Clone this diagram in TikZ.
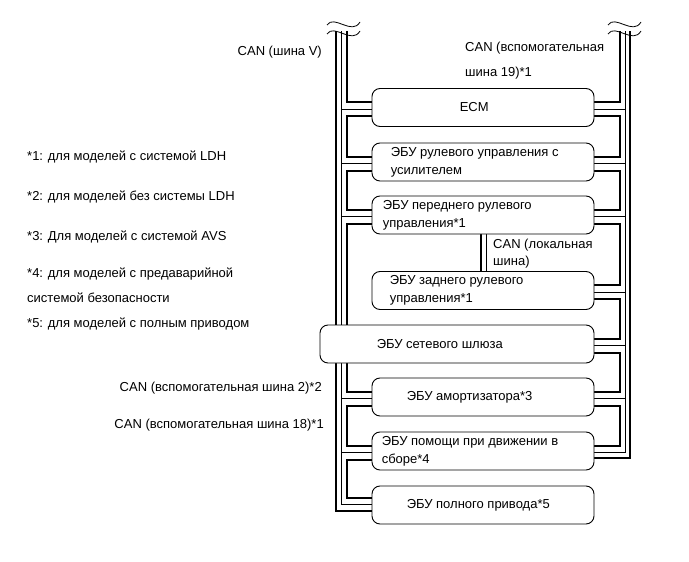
\documentclass[tikz,border=0pt]{standalone}
\usepackage{fontspec}
\setmainfont{Liberation Sans}
\usetikzlibrary{positioning,backgrounds}

\begin{document}
\begin{tikzpicture}[x=1pt,y=-1pt,
% common options for the control units:
box/.style = {draw, rounded corners=8pt, fill=white, line width=0.9pt,
            minimum width=222pt, minimum height=38pt, inner sep=0},
% common options for the texts:
txt/.style = {inner sep=0, align=left, font=\fontsize{13}{18}\selectfont},
% the two wires of a bus:
thk/.style = {line width=2pt},
thn/.style = {line width=0.8pt},
wave/.style = {line width=0.8pt}]
\useasboundingbox (0,0) rectangle (689,562);
% control units
\node[box] (ecm) at (483,107.5) {};
\node[box] (eps) at (483,162) {};
\node[box] (fst) at (483,215) {};
\node[box] (rst) at (483,290.5) {};
\node[box,minimum width=274pt] (gw) at (457,344) {};
\node[box] (abs) at (483,397) {};
\node[box] (pcs) at (483,451) {};
\node[box] (awd) at (483,505) {};
\node[txt,right=88pt of ecm.west] (ecm-t) {ECM};
\node[txt,right=19pt of eps.west] (eps-t) {ЭБУ рулевого управления с\\усилителем};
\node[txt,right=11pt of fst.west] (fst-t) {ЭБУ переднего рулевого\\управления*1};
\node[txt,right=18pt of rst.west] (rst-t) {ЭБУ заднего рулевого\\управления*1};
\node[txt,right=57pt of gw.west] (gw-t) {ЭБУ сетевого шлюза};
\node[txt,right=35pt of abs.west] (abs-t) {ЭБУ амортизатора*3};
\node[txt,right=10pt of pcs.west] (pcs-t) {ЭБУ помощи при движении в\\сборе*4};
\node[txt,right=35pt of awd.west] (awd-t) {ЭБУ полного привода*5};
% bus names
\node[txt,anchor=east] (canv) at (322,52) {CAN (шина V)};
\node[txt,anchor=west,font=\fontsize{13}{25}\selectfont] (can19) at (465,60.5) {CAN (вспомогательная\\шина 19)*1};
\node[txt,anchor=west,font=\fontsize{13}{17}\selectfont] (canl) at (493,254) {CAN (локальная\\шина)};
\node[txt,anchor=east] (can2) at (322,388) {CAN (вспомогательная шина 2)*2};
\node[txt,anchor=east] (can18) at (324,425) {CAN (вспомогательная шина 18)*1};
% notes
\node[txt,anchor=west] (n1) at (27,157) {*1: для моделей с системой LDH};
\node[txt,anchor=west] (n2) at (27,197) {*2: для моделей без системы LDH};
\node[txt,anchor=west] (n3) at (27,237) {*3: Для моделей с системой AVS};
\node[txt,anchor=west,font=\fontsize{13}{25}\selectfont] (n4) at (27,285) {*4: для моделей с предаварийной\\системой безопасности};
\node[txt,anchor=west] (n5) at (27,324) {*5: для моделей с полным приводом};
% cut ends of the buses
\coordinate (l1) at (336,31);
\coordinate (l2) at (341,31);
\coordinate (l3) at (347,31);
\coordinate (r3) at (620,31);
\coordinate (r2) at (625,31);
\coordinate (r1) at (630,31);
\draw[wave] (327,25) .. controls (334,14) and (352,36) .. (360,22);
\draw[wave] (327,34) .. controls (334,23) and (352,45) .. (360,31);
\draw[wave] (608,25) .. controls (615,14) and (633,36) .. (641,22);
\draw[wave] (608,34) .. controls (615,23) and (633,45) .. (641,31);
\begin{scope}[on background layer]
% left side
\draw[thk] (l1) |- ([yshift=-25pt]awd.north west);
\draw[thn] (l2) |- ([yshift=-19pt]awd.north west);
\draw[thk] (l3) |- ([yshift=-14pt]ecm.north west);
\draw[thk] ([yshift=-28pt]ecm.north west) -- ++(-25pt,0) |- ([yshift=-14pt]eps.north west);
\draw[thk] ([yshift=-28pt]eps.north west) -- ++(-25pt,0) |- ([yshift=-14pt]fst.north west);
\draw[thk] ([yshift=-28pt]fst.north west) -- ++(-25pt,0) |- ([yshift=-14pt]abs.north west);
\draw[thk] ([yshift=-28pt]abs.north west) -- ++(-25pt,0) |- ([yshift=-14pt]pcs.north west);
\draw[thk] ([yshift=-28pt]pcs.north west) -- ++(-25pt,0) |- ([yshift=-12pt]awd.north west);
\draw[thn] ([yshift=-21pt]ecm.north west) -- ++(-31pt,0);
\draw[thn] ([yshift=-21pt]eps.north west) -- ++(-31pt,0);
\draw[thn] ([yshift=-21pt]fst.north west) -- ++(-31pt,0);
\draw[thn] ([yshift=-21pt]abs.north west) -- ++(-31pt,0);
\draw[thn] ([yshift=-21pt]pcs.north west) -- ++(-31pt,0);
% right side
\draw[thk] (r1) |- ([yshift=-26pt]pcs.north east);
\draw[thn] (r2) |- ([yshift=-21pt]pcs.north east);
\draw[thk] (r3) |- ([yshift=-14pt]ecm.north east);
\draw[thk] ([yshift=-28pt]ecm.north east) -- ++(26pt,0) |- ([yshift=-14pt]eps.north east);
\draw[thk] ([yshift=-28pt]eps.north east) -- ++(26pt,0) |- ([yshift=-14pt]fst.north east);
\draw[thk] ([yshift=-28pt]fst.north east) -- ++(26pt,0) |- ([yshift=-14pt]rst.north east);
\draw[thk] ([yshift=-28pt]rst.north east) -- ++(26pt,0) |- ([yshift=-14pt]gw.north east);
\draw[thk] ([yshift=-28pt]gw.north east) -- ++(26pt,0) |- ([yshift=-14pt]abs.north east);
\draw[thk] ([yshift=-28pt]abs.north east) -- ++(26pt,0) |- ([yshift=-14pt]pcs.north east);
\draw[thn] ([yshift=-21pt]ecm.north east) -- ++(31pt,0);
\draw[thn] ([yshift=-21pt]eps.north east) -- ++(31pt,0);
\draw[thn] ([yshift=-21pt]fst.north east) -- ++(31pt,0);
\draw[thn] ([yshift=-21pt]rst.north east) -- ++(31pt,0);
\draw[thn] ([yshift=-21pt]gw.north east) -- ++(31pt,0);
\draw[thn] ([yshift=-21pt]abs.north east) -- ++(31pt,0);
% local bus
\draw[thk] ([xshift=-2pt]fst.south) -- ([xshift=-2pt]rst.north);
\draw[thn] ([xshift=3pt]fst.south) -- ([xshift=3pt]rst.north);
\end{scope}
\end{tikzpicture}
\end{document}
